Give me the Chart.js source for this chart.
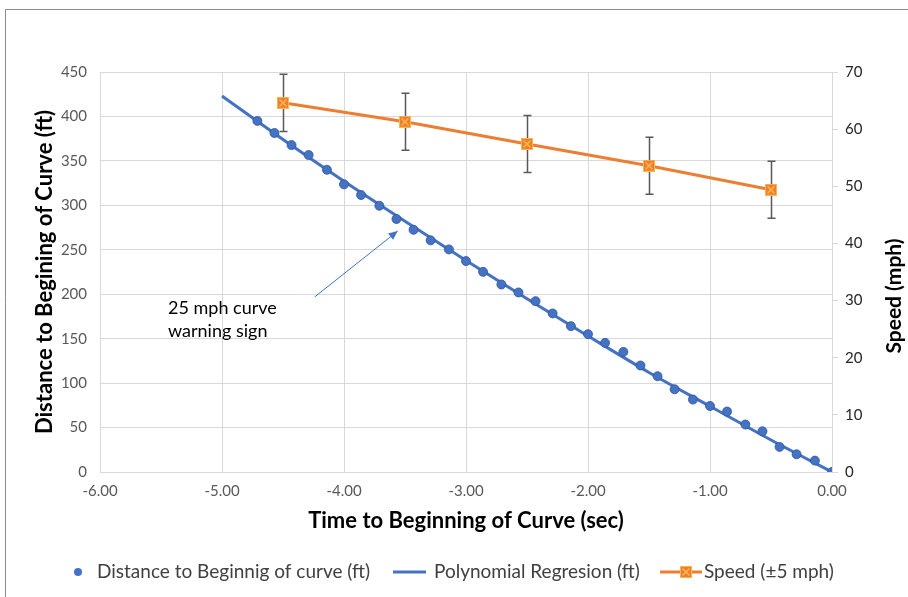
<!DOCTYPE html>
<html>
<head>
<meta charset="utf-8">
<script src="https://cdn.jsdelivr.net/npm/chart.js@4.4.1/dist/chart.umd.min.js"></script>
<style>
  html, body { margin: 0; padding: 0; background: #fff; }
  #wrap { width: 908px; height: 597px; }
</style>
</head>
<body>
<div id="wrap"><canvas id="chart" width="908" height="597"></canvas></div>
<script>
// data
const timeSec = [-4.71, -4.57, -4.43, -4.29, -4.14, -4.00, -3.86, -3.71, -3.57, -3.43, -3.29,
  -3.14, -3.00, -2.86, -2.71, -2.57, -2.43, -2.29, -2.14, -2.00, -1.86, -1.71, -1.57,
  -1.43, -1.29, -1.14, -1.00, -0.86, -0.71, -0.57, -0.43, -0.29, -0.14, 0.00];
const distanceFt = [395.0, 381.4, 367.8, 356.6, 340.0, 323.6, 311.6, 299.5, 284.6, 272.5, 260.6,
  250.4, 237.3, 225.2, 211.0, 202.0, 192.2, 178.4, 164.1, 155.1, 145.3, 135.1, 119.8,
  107.8, 93.1, 81.5, 74.3, 68.0, 53.4, 45.8, 28.2, 19.9, 12.8, 0];

const fitTime = [-5, -4.5, -4, -3.5, -3, -2.5, -2, -1.5, -1, -0.5, 0];
const fitFt = [423, 374, 327, 282, 238, 195, 153, 112, 74, 36, 0];

const speedTime = [-4.5, -3.5, -2.5, -1.5, -0.5];
const speedMph = [64.6, 61.3, 57.4, 53.6, 49.4];
const speedErr = 5;

const labels = ['Distance to Beginnig of curve (ft)', 'Polynomial Regresion (ft)', 'Speed (\u00b15 mph)'];

const FAMILY = 'Lato, Carlito, Calibri, "Liberation Sans", sans-serif';
const BLUE = '#4472C4';
const ORANGE = '#ED7D31';
const GRID = '#D9D9D9';

function pts(xs, ys) {
  return xs.map((x, i) => ({x: x, y: ys[i]}));
}

// orange square with an x, like the excel marker
function makeMarker() {
  const c = document.createElement('canvas');
  c.width = 12; c.height = 12;
  const g = c.getContext('2d');
  g.fillStyle = ORANGE;
  g.fillRect(0, 0, 12, 12);
  g.strokeStyle = '#FDB749';
  g.lineWidth = 1;
  g.strokeRect(0.5, 0.5, 11, 11);
  g.lineWidth = 1.6;
  g.beginPath();
  g.moveTo(2.5, 2.5); g.lineTo(9.5, 9.5);
  g.moveTo(9.5, 2.5); g.lineTo(2.5, 9.5);
  g.stroke();
  return c;
}
const marker = makeMarker();

// frame around the chart
const framePlugin = {
  id: 'frame',
  beforeDraw(chart) {
    const ctx = chart.ctx;
    ctx.save();
    ctx.fillStyle = '#fff';
    ctx.fillRect(0, 0, chart.width, chart.height);
    ctx.strokeStyle = '#8C8C8C';
    ctx.lineWidth = 1;
    ctx.beginPath();
    ctx.moveTo(5.5, chart.height);
    ctx.lineTo(5.5, 9.5);
    ctx.lineTo(chart.width, 9.5);
    ctx.stroke();
    ctx.restore();
  }
};

// +-5 mph error bars, drawn under the speed line
const errorBarPlugin = {
  id: 'errorBars',
  beforeDatasetDraw(chart, args) {
    if (args.index !== 2) return;
    const ctx = chart.ctx;
    const xs = chart.scales.x, ys = chart.scales.y1;
    ctx.save();
    ctx.strokeStyle = '#595959';
    ctx.lineWidth = 1.5;
    speedTime.forEach((t, i) => {
      const px = Math.round(xs.getPixelForValue(t)) + 0.5;
      const top = ys.getPixelForValue(speedMph[i] + speedErr);
      const bot = ys.getPixelForValue(speedMph[i] - speedErr);
      ctx.beginPath();
      ctx.moveTo(px, top); ctx.lineTo(px, bot);
      ctx.moveTo(px - 4, top); ctx.lineTo(px + 4, top);
      ctx.moveTo(px - 4, bot); ctx.lineTo(px + 4, bot);
      ctx.stroke();
    });
    ctx.restore();
  }
};

// callout text, arrow, right axis title and legend
const extrasPlugin = {
  id: 'extras',
  afterDraw(chart) {
    const ctx = chart.ctx;
    const xs = chart.scales.x, ys = chart.scales.y;
    ctx.save();

    // callout
    ctx.font = '18px ' + FAMILY;
    ctx.fillStyle = '#000';
    ctx.textBaseline = 'middle';
    ctx.textAlign = 'left';
    ctx.fillText('25 mph curve', 168, 308);
    ctx.fillText('warning sign', 168, 331);

    const x0 = xs.getPixelForValue(-4.24), y0 = ys.getPixelForValue(197);
    const x1 = xs.getPixelForValue(-3.56), y1 = ys.getPixelForValue(271);
    ctx.strokeStyle = BLUE;
    ctx.fillStyle = BLUE;
    ctx.lineWidth = 1;
    ctx.beginPath();
    ctx.moveTo(x0, y0); ctx.lineTo(x1, y1);
    ctx.stroke();
    const a = Math.atan2(y1 - y0, x1 - x0);
    ctx.beginPath();
    ctx.moveTo(x1, y1);
    ctx.lineTo(x1 - 9 * Math.cos(a) + 4 * Math.sin(a), y1 - 9 * Math.sin(a) - 4 * Math.cos(a));
    ctx.lineTo(x1 - 9 * Math.cos(a) - 4 * Math.sin(a), y1 - 9 * Math.sin(a) + 4 * Math.cos(a));
    ctx.closePath();
    ctx.fill();

    // right axis title reads bottom to top
    ctx.save();
    ctx.translate(894, 296);
    ctx.rotate(-Math.PI / 2);
    ctx.font = 'bold 21px ' + FAMILY;
    ctx.fillStyle = '#000';
    ctx.textAlign = 'center';
    ctx.fillText('Speed (mph)', 0, 0);
    ctx.restore();

    // legend
    const ly = 572;
    ctx.font = '19px ' + FAMILY;
    ctx.fillStyle = '#404040';
    ctx.textAlign = 'left';
    ctx.fillText(labels[0], 97, ly);
    ctx.fillText(labels[1], 434, ly);
    ctx.fillText(labels[2], 704, ly);

    ctx.fillStyle = BLUE;
    ctx.beginPath();
    ctx.arc(78, ly, 4, 0, Math.PI * 2);
    ctx.fill();

    ctx.strokeStyle = BLUE;
    ctx.lineWidth = 3;
    ctx.beginPath();
    ctx.moveTo(393, ly); ctx.lineTo(426, ly);
    ctx.stroke();

    ctx.strokeStyle = ORANGE;
    ctx.beginPath();
    ctx.moveTo(660, ly); ctx.lineTo(702, ly);
    ctx.stroke();
    ctx.drawImage(marker, 680, ly - 6);

    ctx.restore();
  }
};

const tickFont = {family: FAMILY, size: 15};
const titleFont = {family: FAMILY, size: 22, weight: 'bold'};

const config = {
  type: 'scatter',
  data: {
    datasets: [
      {
        label: labels[0],
        data: pts(timeSec, distanceFt),
        showLine: false,
        pointRadius: 4.5,
        pointBackgroundColor: BLUE,
        pointBorderColor: '#2F5597',
        pointBorderWidth: 0.8,
        yAxisID: 'y',
        order: 1
      },
      {
        label: labels[1],
        data: pts(fitTime, fitFt),
        showLine: true,
        borderColor: BLUE,
        borderWidth: 3,
        pointRadius: 0,
        cubicInterpolationMode: 'monotone',
        yAxisID: 'y',
        order: 2
      },
      {
        label: labels[2],
        data: pts(speedTime, speedMph),
        showLine: true,
        borderColor: ORANGE,
        borderWidth: 3,
        pointStyle: marker,
        pointRadius: 6,
        yAxisID: 'y1',
        order: 0
      }
    ]
  },
  options: {
    responsive: false,
    animation: false,
    layout: {padding: {top: 72, left: 0, right: 0, bottom: 55}},
    plugins: {
      legend: {display: false},
      tooltip: {enabled: false}
    },
    scales: {
      x: {
        type: 'linear',
        min: -6,
        max: 0,
        ticks: {stepSize: 1, color: '#595959', font: tickFont, padding: 10,
          callback: v => v.toFixed(2)},
        grid: {color: GRID, drawTicks: false},
        border: {color: GRID},
        title: {display: true, text: 'Time to Beginning of Curve (sec)', color: '#000',
          font: titleFont, padding: {top: 0, bottom: 8}},
        afterFit: s => { s.height = 70; }
      },
      y: {
        position: 'left',
        min: 0,
        max: 450,
        ticks: {stepSize: 50, color: '#595959', font: tickFont, padding: 13},
        grid: {color: GRID, drawTicks: false},
        border: {display: false},
        title: {display: true, text: 'Distance to Begining of Curve (ft)', color: '#000',
          font: titleFont, padding: {top: 32, bottom: 0}},
        afterFit: s => { s.width = 100; }
      },
      y1: {
        position: 'right',
        min: 0,
        max: 70,
        ticks: {stepSize: 10, color: '#262626', font: tickFont, padding: 7},
        grid: {drawOnChartArea: false, drawTicks: true, tickLength: 6, color: GRID},
        border: {display: true, color: GRID},
        afterFit: s => { s.width = 76; }
      }
    }
  },
  plugins: [framePlugin, errorBarPlugin, extrasPlugin]
};

const chart = new Chart(document.getElementById('chart'), config);
</script>
</body>
</html>
